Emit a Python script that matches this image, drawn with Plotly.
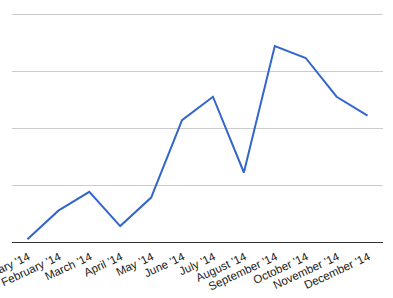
import plotly.graph_objects as go

months = ["January '14", "February '14", "March '14", "April '14", "May '14", "June '14",
          "July '14", "August '14", "September '14", "October '14", "November '14", "December '14"]
values = [5, 55, 88, 28, 78, 214, 255, 122, 344, 323, 255, 222]
y_ticks = [0, 100, 200, 300, 400]

fig = go.Figure()
fig.add_trace(go.Scatter(x=months, y=values, mode="lines",
                         line=dict(color="#3366cc", width=2), hoverinfo="skip"))

fig.update_layout(
    width=393, height=298,
    margin=dict(l=12, r=10, t=13, b=56),
    paper_bgcolor="white", plot_bgcolor="white",
    showlegend=False,
    font=dict(family="Liberation Sans, Arial, sans-serif", size=11, color="#222222"),
)
fig.update_xaxes(type="category", range=[-0.5, len(months) - 0.5], tickangle=-25,
                 showgrid=False, showline=True, linecolor="#333333", linewidth=1,
                 ticks="", automargin=False, ticklabelshift=1, ticklabelstandoff=3,
                 tickfont=dict(size=11.5, color="#222222"))
fig.update_yaxes(range=[0, 402], tickvals=y_ticks, showticklabels=False, showgrid=True,
                 gridcolor="#cccccc", gridwidth=1, zeroline=False, automargin=False)

fig.write_html("out.html")
